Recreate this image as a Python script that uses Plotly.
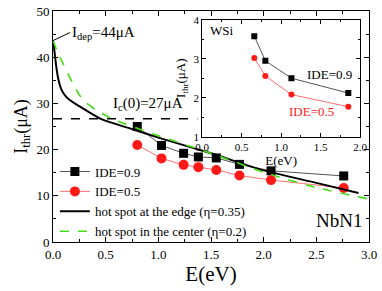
import plotly.graph_objects as go

# NbN1 main data
E_main = [0.80, 1.03, 1.24, 1.38, 1.55, 1.77, 2.07, 2.76]
I_ide09 = [25.0, 20.9, 19.2, 18.4, 18.2, 16.8, 15.4, 14.3]
I_ide05 = [21.0, 18.1, 16.7, 16.2, 15.6, 14.4, 13.4, 11.7]

# model curves
E_edge = [0.0, 0.01, 0.02, 0.035, 0.05, 0.07, 0.09, 0.13, 0.18, 0.24, 0.30, 0.46, 0.77, 1.0, 1.5, 2.0, 2.5, 2.9]
I_edge = [43.6, 42.0, 40.0, 37.3, 35.3, 33.6, 32.5, 31.3, 30.4, 29.5, 28.7, 26.6, 24.3, 22.6, 19.2, 15.5, 12.8, 10.6]
E_center = [0.0, 0.04, 0.11, 0.19, 0.28, 0.42, 0.58, 0.8, 1.0, 1.5, 2.0, 2.5, 3.0]
I_center = [43.6, 41.3, 37.9, 34.3, 30.9, 28.4, 26.5, 24.6, 23.0, 19.2, 15.1, 11.8, 9.3]

Ic0 = 26.7
Ic0_E = [0.0, 1.37]

# WSi inset data
E_wsi = [0.66, 0.80, 1.13, 1.85]
I_wsi09 = [3.58, 2.95, 2.50, 2.12]
I_wsi05 = [3.02, 2.56, 2.08, 1.77]

FONT = "Liberation Serif, Times New Roman, serif"

fig = go.Figure()

fig.add_trace(go.Scatter(x=E_main, y=I_ide09, mode="lines+markers", name="IDE=0.9",
                         line=dict(color="#555555", width=1),
                         marker=dict(symbol="square", size=9, color="black")))
fig.add_trace(go.Scatter(x=E_main, y=I_ide05, mode="lines+markers", name="IDE=0.5",
                         line=dict(color="#ff7070", width=1),
                         marker=dict(symbol="circle", size=10, color="#ff1a1a")))
fig.add_trace(go.Scatter(x=E_edge, y=I_edge, mode="lines", name="hot spot at the edge (η=0.35)",
                         line=dict(color="black", width=2, shape="spline", smoothing=0.6)))
fig.add_trace(go.Scatter(x=E_center, y=I_center, mode="lines", name="hot spot in the center (η=0.2)",
                         line=dict(color="#44dd11", width=1.6, dash="dash", shape="spline", smoothing=0.8)))
fig.add_trace(go.Scatter(x=Ic0_E, y=[Ic0, Ic0], mode="lines", showlegend=False,
                         line=dict(color="black", width=1.5, dash="dash")))

# inset
fig.add_trace(go.Scatter(x=E_wsi, y=I_wsi09, mode="lines+markers", showlegend=False,
                         xaxis="x2", yaxis="y2",
                         line=dict(color="#555555", width=1),
                         marker=dict(symbol="square", size=6, color="black")))
fig.add_trace(go.Scatter(x=E_wsi, y=I_wsi05, mode="lines+markers", showlegend=False,
                         xaxis="x2", yaxis="y2",
                         line=dict(color="#ff7070", width=1),
                         marker=dict(symbol="circle", size=6, color="#ff1a1a")))

def ax(**kw):
    base = dict(showgrid=False, zeroline=False, showline=True, linecolor="black",
                linewidth=1, mirror="ticks", ticks="inside", tickcolor="black")
    base.update(kw)
    return base

fig.update_layout(
    width=382, height=291,
    margin=dict(l=53, r=9, t=5, b=49),
    paper_bgcolor="white", plot_bgcolor="white",
    font=dict(family=FONT, color="black", size=13),
    xaxis=ax(range=[0, 3], dtick=0.5, ticklen=5, tickformat=".1f",
             tickfont=dict(family=FONT, size=13, color="black"),
             minor=dict(dtick=0.25, ticks="inside", ticklen=3, tickcolor="black"),
             title=dict(text="E(eV)", font=dict(family=FONT, size=21), standoff=3)),
    yaxis=ax(range=[0, 50], dtick=10, ticklen=5,
             tickfont=dict(family=FONT, size=13, color="black"),
             minor=dict(dtick=5, ticks="inside", ticklen=3, tickcolor="black"),
             title=dict(text="I<sub>thr</sub>(μA)", font=dict(family=FONT, size=18), standoff=4)),
    xaxis2=ax(domain=[0.472, 0.972], anchor="y2", range=[0, 2], dtick=0.5, ticklen=4,
              tickformat=".1f", tickfont=dict(family=FONT, size=11, color="black"),
              minor=dict(dtick=0.25, ticks="inside", ticklen=2, tickcolor="black"),
              title=dict(text="E(eV)", font=dict(family=FONT, size=13), standoff=1)),
    yaxis2=ax(domain=[0.456, 0.962], anchor="x2", range=[1, 4], dtick=1, ticklen=4,
              tickfont=dict(family=FONT, size=11, color="black"),
              minor=dict(dtick=0.5, ticks="inside", ticklen=2, tickcolor="black"),
              title=dict(text="I<sub>thr</sub>(μA)", font=dict(family=FONT, size=13), standoff=4)),
    legend=dict(x=0.006, y=0.37, xanchor="left", yanchor="top",
                bgcolor="rgba(0,0,0,0)", font=dict(family=FONT, size=13),
                tracegroupgap=0, itemwidth=30),
    showlegend=True,
)

fig.add_annotation(x=0, y=43.6, xref="x", yref="y", ax=17, ay=-8,
                   text="I<sub>dep</sub>=44μA", showarrow=True, arrowhead=0,
                   arrowwidth=1, arrowcolor="black", xanchor="left", yanchor="middle",
                   font=dict(family=FONT, size=15))
fig.add_annotation(x=0.55, y=27.4, xref="x", yref="y", text="I<sub>c</sub>(0)=27μA",
                   showarrow=False, xanchor="left", yanchor="bottom",
                   font=dict(family=FONT, size=15))
fig.add_annotation(x=2.95, y=4.7, xref="x", yref="y", text="NbN1", showarrow=False,
                   xanchor="right", yanchor="middle", font=dict(family=FONT, size=19))
fig.add_annotation(x=0.08, y=3.72, xref="x2", yref="y2", text="WSi", showarrow=False,
                   xanchor="left", yanchor="middle", font=dict(family=FONT, size=13))
fig.add_annotation(x=1.92, y=2.6, xref="x2", yref="y2", text="IDE=0.9", showarrow=False,
                   xanchor="right", yanchor="middle", font=dict(family=FONT, size=13, color="black"))
fig.add_annotation(x=1.7, y=1.65, xref="x2", yref="y2", text="IDE=0.5", showarrow=False,
                   xanchor="right", yanchor="middle", font=dict(family=FONT, size=13, color="#ff1a1a"))

fig.write_html("out.html", config={"displayModeBar": False},
               post_script="document.body.style.margin='0';")
